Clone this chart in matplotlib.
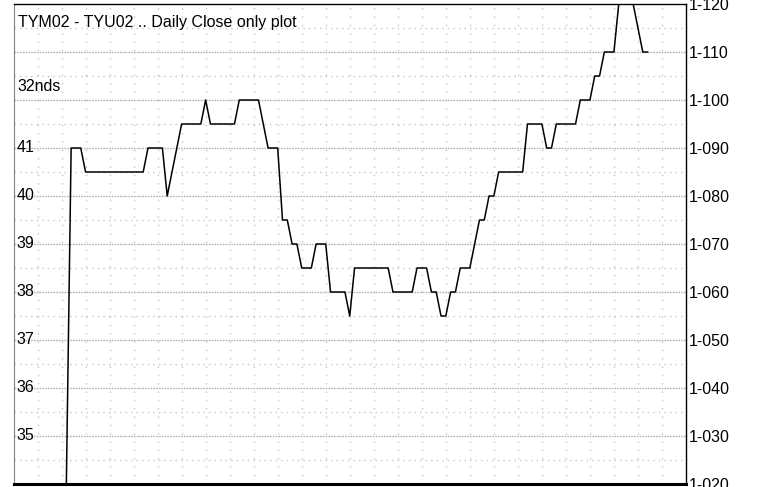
import matplotlib
matplotlib.use("Agg")
import matplotlib.pyplot as plt
import matplotlib.transforms as mtransforms
import numpy as np

plt.rcParams['font.family'] = ['Liberation Sans', 'DejaVu Sans']

# ---- data ----
title_text = "TYM02 - TYU02 .. Daily Close only plot"
units_text = "32nds"
first_day = 11
close_32nds = [20,
               90, 90, 90,
               85, 85, 85, 85, 85, 85, 85, 85, 85, 85, 85, 85, 85,
               90, 90, 90, 90,
               80, 85, 90,
               95, 95, 95, 95, 95,
               100,
               95, 95, 95, 95, 95, 95,
               100, 100, 100, 100, 100,
               95,
               90, 90, 90,
               75, 75,
               70, 70,
               65, 65, 65,
               70, 70, 70,
               60, 60, 60, 60,
               55,
               65, 65, 65, 65, 65, 65, 65, 65,
               60, 60, 60, 60, 60,
               65, 65, 65,
               60, 60,
               55, 55,
               60, 60,
               65, 65, 65,
               70,
               75, 75,
               80, 80,
               85, 85, 85, 85, 85, 85,
               95, 95, 95, 95,
               90, 90,
               95, 95, 95, 95, 95,
               100, 100, 100,
               105, 105,
               110, 110, 110,
               120, 120, 120, 120,
               115,
               110, 110]
right_tick_values = [20, 30, 40, 50, 60, 70, 80, 90, 100, 110, 120]
right_tick_labels = ["1-020", "1-030", "1-040", "1-050", "1-060", "1-070",
                     "1-080", "1-090", "1-100", "1-110", "1-120"]
left_tick_values = [30, 40, 50, 60, 70, 80, 90]
left_tick_labels = ["35", "36", "37", "38", "39", "40", "41"]
x_max = 140
y_min, y_max = 20, 120

W, H = 769, 487
fig = plt.figure(figsize=(W / 100, H / 100), dpi=100)
ax = fig.add_axes([13.5 / W, 3 / H, (686 - 13.5) / W, (484 - 4) / H])
ax.set_xlim(0, x_max)
ax.set_ylim(y_min, y_max)

# grid
for v in range(y_min + 5, y_max, 5):
    if v % 10 == 0:
        ax.axhline(v, color='#b4b4b4', lw=1, ls=(0, (1.2, 0.8)), zorder=1)
    else:
        ax.axhline(v, color='#c4c4c4', lw=1, ls=(0, (1, 3)), zorder=1)
for k in range(5, x_max, 5):
    ax.axvline(k, color='#c4c4c4', lw=1, ls=(0, (1, 5)), zorder=1)

x = np.arange(first_day, first_day + len(close_32nds))
ax.plot(x, close_32nds, color='black', lw=1.1, zorder=3, clip_on=True)

ax.set_xticks([])
ax.yaxis.tick_right()
ax.set_yticks(right_tick_values)
ax.set_yticklabels(right_tick_labels, fontsize=11.5)
ax.tick_params(axis='y', length=0, pad=2)

trans = mtransforms.blended_transform_factory(ax.transAxes, ax.transData)
for v, lab in zip(left_tick_values, left_tick_labels):
    ax.text(0.004, v, lab, transform=trans, ha='left', va='center', fontsize=11.5)

ax.text(0.006, 116.2, title_text, transform=trans, ha='left', va='center', fontsize=11.5)
ax.text(0.006, 102.9, units_text, transform=trans, ha='left', va='center', fontsize=11.5)

ax.spines['left'].set_color('#808080')
ax.spines['bottom'].set_linewidth(2.2)
ax.spines['top'].set_linewidth(1)
ax.spines['right'].set_linewidth(1)

fig.savefig("out.png", dpi=100)
